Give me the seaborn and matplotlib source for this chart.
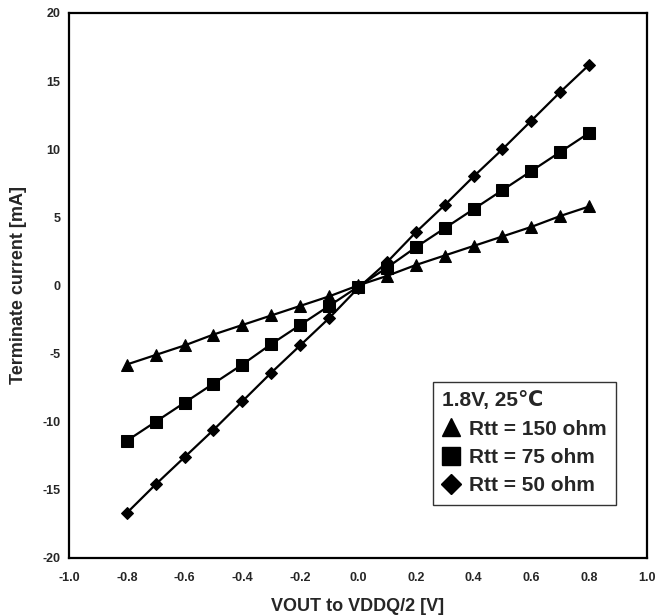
import matplotlib
matplotlib.use("Agg")
import matplotlib.pyplot as plt
from matplotlib.lines import Line2D
import numpy as np
import pandas as pd
import seaborn as sns

# Output voltage relative to VDDQ/2 [V]
vout = [-0.8, -0.7, -0.6, -0.5, -0.4, -0.3, -0.2, -0.1, 0.0,
        0.1, 0.2, 0.3, 0.4, 0.5, 0.6, 0.7, 0.8]

# Terminate current [mA] for each termination resistance
i_rtt150 = [-5.8, -5.1, -4.4, -3.6, -2.9, -2.2, -1.5, -0.8, 0.0,
            0.7, 1.5, 2.2, 2.9, 3.6, 4.3, 5.1, 5.8]
i_rtt75 = [-11.4, -10.0, -8.6, -7.2, -5.8, -4.3, -2.9, -1.5, -0.1,
           1.3, 2.8, 4.2, 5.6, 7.0, 8.4, 9.8, 11.2]
i_rtt50 = [-16.7, -14.6, -12.6, -10.6, -8.5, -6.4, -4.4, -2.4, -0.2,
           1.7, 3.9, 5.9, 8.0, 10.0, 12.1, 14.2, 16.2]

labels = ["Rtt = 150 ohm", "Rtt = 75 ohm", "Rtt = 50 ohm"]
markers = ["^", "s", "D"]
msizes = [8.5, 8.5, 6.5]
legend_title = "1.8V, 25\u2103"

x_ticks = [-1.0, -0.8, -0.6, -0.4, -0.2, 0.0, 0.2, 0.4, 0.6, 0.8, 1.0]
y_ticks = [-20, -15, -10, -5, 0, 5, 10, 15, 20]

sns.set_theme(style="white")
plt.rcParams["font.family"] = ["Liberation Sans", "DejaVu Sans"]

df = pd.DataFrame({
    "v": vout * 3,
    "i": i_rtt150 + i_rtt75 + i_rtt50,
    "rtt": [labels[0]] * len(vout) + [labels[1]] * len(vout) + [labels[2]] * len(vout),
})

fig = plt.figure(figsize=(6.71, 6.15), dpi=100)
ax = fig.add_axes([0.1028, 0.0927, 0.8614, 0.8862])

for lab, mk, ms in zip(labels, markers, msizes):
    sub = df[df["rtt"] == lab]
    sns.lineplot(data=sub, x="v", y="i", ax=ax, color="black", linewidth=1.6,
                 marker=mk, markersize=ms, markeredgecolor="black",
                 markerfacecolor="black", legend=False, sort=False)

ax.set_xlim(-1.0, 1.0)
ax.set_ylim(-20, 20)
ax.set_xticks(x_ticks)
ax.set_yticks(y_ticks)
ax.set_xticklabels([f"{t:.1f}" for t in x_ticks])
ax.set_yticklabels([str(t) for t in y_ticks])
ax.tick_params(axis="both", direction="in", length=3, width=0.6, color="#888888",
               labelsize=9)
ax.tick_params(axis="x", pad=10)
ax.tick_params(axis="y", pad=6)
for lbl in ax.get_xticklabels() + ax.get_yticklabels():
    lbl.set_fontweight("bold")

for side in ["left", "bottom", "top", "right"]:
    ax.spines[side].set_visible(True)
    ax.spines[side].set_color("black")
    ax.spines[side].set_linewidth(1.6)

ax.set_xlabel("VOUT to VDDQ/2 [V]", fontsize=13, fontweight="bold", labelpad=10)
ax.set_ylabel("Terminate current [mA]", fontsize=13, fontweight="bold", labelpad=11)

handles = [Line2D([], [], linestyle="none", marker=mk, color="black",
                  markersize=ms * 1.5) for mk, ms in zip(markers, msizes)]
leg = ax.legend(handles, labels, title=legend_title, loc="upper left",
                bbox_to_anchor=(0.630, 0.323), frameon=True, fancybox=False,
                prop={"weight": "bold", "size": 15},
                title_fontproperties={"weight": "bold", "size": 15},
                handlelength=0.8, handletextpad=0.45, labelspacing=0.45,
                borderpad=0.45, borderaxespad=0.0, alignment="left")
leg.get_frame().set_edgecolor("black")
leg.get_frame().set_linewidth(1.0)

fig.savefig("out.png", dpi=100)
